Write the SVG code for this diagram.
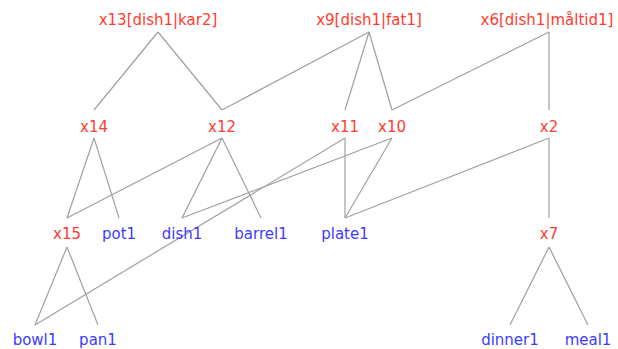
<svg xmlns="http://www.w3.org/2000/svg" width="618" height="349" viewBox="0 0 618 349">
<style>
text{font-family:"DejaVu Sans","Liberation Sans",sans-serif;font-size:15px;text-anchor:middle}
.r{fill:#ff3b30}
.b{fill:#3c3cff}
#edges line{stroke:#a0a0a0;stroke-width:1.2}
</style>
<rect width="618" height="349" fill="#fff"/>
<g id="edges">
<line x1="158" y1="32" x2="94" y2="110"/>
<line x1="158" y1="32" x2="222" y2="110"/>
<line x1="369" y1="32" x2="222" y2="110"/>
<line x1="369" y1="32" x2="345" y2="110"/>
<line x1="369" y1="32" x2="392" y2="110"/>
<line x1="549" y1="32" x2="392" y2="110"/>
<line x1="549" y1="32" x2="549" y2="110"/>
<line x1="94" y1="138" x2="67" y2="218"/>
<line x1="94" y1="138" x2="119" y2="218"/>
<line x1="222" y1="138" x2="67" y2="218"/>
<line x1="222" y1="138" x2="182" y2="218"/>
<line x1="222" y1="138" x2="261" y2="218"/>
<line x1="345" y1="138" x2="35" y2="325"/>
<line x1="345" y1="138" x2="345" y2="218"/>
<line x1="392" y1="138" x2="182" y2="218"/>
<line x1="392" y1="138" x2="345" y2="218"/>
<line x1="549" y1="138" x2="345" y2="218"/>
<line x1="549" y1="138" x2="549" y2="218"/>
<line x1="67" y1="247" x2="35" y2="325"/>
<line x1="67" y1="247" x2="98" y2="325"/>
<line x1="549" y1="247" x2="510" y2="325"/>
<line x1="549" y1="247" x2="588" y2="325"/>
</g>
<g id="x13"><text class="r" x="158" y="25">x13[dish1|kar2]</text></g>
<g id="x9"><text class="r" x="369" y="25">x9[dish1|fat1]</text></g>
<g id="x6"><text class="r" x="547" y="25">x6[dish1|måltid1]</text></g>
<g id="x14"><text class="r" x="94" y="132">x14</text></g>
<g id="x12"><text class="r" x="222" y="132">x12</text></g>
<g id="x11"><text class="r" x="345" y="132">x11</text></g>
<g id="x10"><text class="r" x="392" y="132">x10</text></g>
<g id="x2"><text class="r" x="549" y="132">x2</text></g>
<g id="x15"><text class="r" x="67" y="239">x15</text></g>
<g id="pot1"><text class="b" x="119" y="239">pot1</text></g>
<g id="dish1"><text class="b" x="182" y="239">dish1</text></g>
<g id="barrel1"><text class="b" x="261" y="239">barrel1</text></g>
<g id="plate1"><text class="b" x="345" y="239">plate1</text></g>
<g id="x7"><text class="r" x="549" y="239">x7</text></g>
<g id="bowl1"><text class="b" x="35" y="345">bowl1</text></g>
<g id="pan1"><text class="b" x="98" y="345">pan1</text></g>
<g id="dinner1"><text class="b" x="510" y="345">dinner1</text></g>
<g id="meal1"><text class="b" x="588" y="345">meal1</text></g>
</svg>
